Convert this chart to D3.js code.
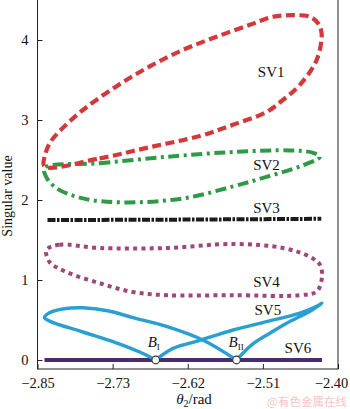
<!DOCTYPE html>
<html>
<head>
<meta charset="utf-8">
<script src="https://cdn.jsdelivr.net/npm/d3@7"></script>
<style>
  body { margin: 0; background: #fff; }
  svg text { font-family: "Liberation Serif", "DejaVu Serif", serif; fill: #111; }
</style>
</head>
<body>
<div id="chart"></div>
<script>
var width = 350, height = 409;

// tick values and labels
var x_ticks = [-2.85, -2.7375, -2.625, -2.5125, -2.40];
var x_tick_labels = ["\u22122.85", "\u22122.73", "\u22122.62", "\u22122.51", "\u22122.40"];
var y_ticks = [0, 1, 2, 3, 4];

// singular value curves, [theta2, value]
var sv1 = [[-2.8395, 2.42], [-2.757, 2.52], [-2.682, 2.66], [-2.607, 2.80], [-2.5575, 2.94],
  [-2.507, 3.10], [-2.4825, 3.25], [-2.457, 3.44], [-2.432, 3.75], [-2.4245, 4.08],
  [-2.43, 4.21], [-2.442, 4.29], [-2.4675, 4.31], [-2.4975, 4.29], [-2.532, 4.19],
  [-2.582, 4.04], [-2.6325, 3.875], [-2.682, 3.67], [-2.732, 3.42], [-2.782, 3.125],
  [-2.817, 2.86], [-2.831, 2.72], [-2.838, 2.58]];
var sv2 = [[-2.8395, 2.40], [-2.757, 2.46], [-2.657, 2.54], [-2.557, 2.60], [-2.472, 2.62],
  [-2.437, 2.59], [-2.427, 2.54], [-2.457, 2.42], [-2.507, 2.29], [-2.557, 2.17],
  [-2.632, 2.02], [-2.722, 1.97], [-2.782, 2.02], [-2.822, 2.15], [-2.837, 2.29]];
var sv3 = [[-2.835, 1.75], [-2.73, 1.752], [-2.63, 1.755], [-2.53, 1.76], [-2.425, 1.765]];
var sv4 = [[-2.8365, 1.375], [-2.817, 1.44], [-2.757, 1.40], [-2.6565, 1.40], [-2.5575, 1.45],
  [-2.4825, 1.40], [-2.442, 1.29], [-2.427, 1.19], [-2.424, 1.04], [-2.4315, 0.86],
  [-2.457, 0.81], [-2.5575, 0.81], [-2.6565, 0.81], [-2.7075, 0.85], [-2.757, 0.96],
  [-2.8065, 1.10], [-2.832, 1.225]];
// SV5 in two branches: B_I -> right tip -> B_II, then B_II -> left loop -> B_I
var sv5_right = [[-2.673, 0], [-2.647, 0.145], [-2.607, 0.245], [-2.557, 0.375], [-2.507, 0.48],
  [-2.457, 0.585], [-2.432, 0.67], [-2.424, 0.71], [-2.44, 0.62], [-2.477, 0.46],
  [-2.502, 0.335], [-2.527, 0.205], [-2.552, 0]];
var sv5_left = [[-2.552, 0], [-2.6025, 0.25], [-2.657, 0.42],
  [-2.707, 0.53], [-2.745, 0.615], [-2.782, 0.652], [-2.81, 0.64], [-2.832, 0.59],
  [-2.8395, 0.53], [-2.83, 0.48], [-2.782, 0.35], [-2.732, 0.215], [-2.697, 0.1], [-2.673, 0]];
var sv6 = [[-2.8395, 0], [-2.424, 0]];
var bifurcations = [[-2.673, 0], [-2.552, 0]];

// curve labels, anchored in data units
var sv_labels = [["SV1", -2.52, 3.54], ["SV2", -2.527, 2.37], ["SV3", -2.527, 1.84],
  ["SV4", -2.527, 0.91], ["SV5", -2.525, 0.56], ["SV6", -2.48, 0.09]];

var margins = { top: 0, right: 12, bottom: 40, left: 37.5 };

var x = d3.scaleLinear()
  .domain([-2.85, -2.40])
  .range([margins.left, width - margins.right]);

var y = d3.scaleLinear()
  .domain([-0.1125, 4.5])
  .range([height - margins.bottom, margins.top]);

var svg = d3.select("#chart")
  .append("svg")
  .attr("width", width)
  .attr("height", height);

// frame
svg.append("rect")
  .attr("x", x.range()[0])
  .attr("y", -1)
  .attr("width", x.range()[1] - x.range()[0])
  .attr("height", y.range()[0] + 1)
  .attr("fill", "none")
  .attr("stroke", "#222")
  .attr("stroke-width", 1);

var x_axis = d3.axisBottom(x)
  .tickValues(x_ticks)
  .tickFormat((d, i) => x_tick_labels[i])
  .tickSizeInner(-5)
  .tickSizeOuter(0)
  .tickPadding(9);

var gx = svg.append("g")
  .attr("transform", "translate(0," + y.range()[0] + ")")
  .call(x_axis);
gx.select(".domain").remove();
gx.selectAll("text").attr("font-size", 14.5).attr("font-family", "Liberation Serif");
gx.selectAll(".tick").filter((d, i) => i === x_ticks.length - 1)
  .select("text").attr("dx", -7);

var y_axis = d3.axisLeft(y)
  .tickValues(y_ticks)
  .tickFormat(d3.format("d"))
  .tickSizeInner(-5)
  .tickSizeOuter(0)
  .tickPadding(9);

var gy = svg.append("g")
  .attr("transform", "translate(" + x.range()[0] + ",0)")
  .call(y_axis);
gy.select(".domain").remove();
gy.selectAll("text").attr("font-size", 14.5).attr("font-family", "Liberation Serif");
svg.selectAll(".tick line").attr("stroke", "#222");

// axis titles
svg.append("text")
  .attr("transform", "translate(12,196) rotate(-90)")
  .attr("text-anchor", "middle")
  .attr("font-size", 14)
  .text("Singular value");

var xt = svg.append("text")
  .attr("x", 194)
  .attr("y", 404)
  .attr("text-anchor", "middle")
  .attr("font-size", 15);
xt.append("tspan").attr("font-style", "italic").text("\u03b8");
xt.append("tspan").attr("font-size", 10).attr("dy", 3).text("2");
xt.append("tspan").attr("dy", -3).text("/rad");

var loop = d3.line()
  .x((d) => x(d[0]))
  .y((d) => y(d[1]))
  .curve(d3.curveCatmullRomClosed.alpha(0.5));

var smooth = d3.line()
  .x((d) => x(d[0]))
  .y((d) => y(d[1]))
  .curve(d3.curveCatmullRom.alpha(0.5));

var open_line = d3.line()
  .x((d) => x(d[0]))
  .y((d) => y(d[1]));

// SV6 along the axis
svg.append("path")
  .datum(sv6)
  .attr("d", open_line)
  .attr("fill", "none")
  .attr("stroke", "#4a2b6f")
  .attr("stroke-width", 4);

// SV5 figure-eight
svg.selectAll(".sv5")
  .data([sv5_right, sv5_left])
  .enter()
  .append("path")
  .attr("class", "sv5")
  .attr("d", smooth)
  .attr("fill", "none")
  .attr("stroke", "#2b9fd2")
  .attr("stroke-width", 3.5)
  .attr("stroke-linejoin", "round")
  .attr("stroke-linecap", "round");

svg.append("path")
  .datum(sv4)
  .attr("d", loop)
  .attr("fill", "none")
  .attr("stroke", "#a0467c")
  .attr("stroke-width", 4)
  .attr("stroke-dasharray", "4,4.2");

svg.append("path")
  .datum(sv3)
  .attr("d", open_line)
  .attr("fill", "none")
  .attr("stroke", "#1c1c1c")
  .attr("stroke-width", 4)
  .attr("stroke-dasharray", "8,1.5,2.5,1.5");

svg.append("path")
  .datum(sv2)
  .attr("d", loop)
  .attr("fill", "none")
  .attr("stroke", "#2e9a45")
  .attr("stroke-width", 4)
  .attr("stroke-dasharray", "11,4.5,3,4.5");

svg.append("path")
  .datum(sv1)
  .attr("d", loop)
  .attr("fill", "none")
  .attr("stroke", "#d3393a")
  .attr("stroke-width", 4.2)
  .attr("stroke-dasharray", "9,4.5");

// bifurcation points
svg.selectAll(".bif")
  .data(bifurcations)
  .enter()
  .append("circle")
  .attr("class", "bif")
  .attr("cx", (d) => x(d[0]))
  .attr("cy", (d) => y(d[1]))
  .attr("r", 3.8)
  .attr("fill", "#fff")
  .attr("stroke", "#333")
  .attr("stroke-width", 1.2);

var bif_names = ["I", "II"];
bifurcations.forEach(function (d, i) {
  var t = svg.append("text")
    .attr("x", x(d[0]) - 8)
    .attr("y", y(d[1]) - 13)
    .attr("font-size", 15);
  t.append("tspan").attr("font-style", "italic").text("B");
  t.append("tspan").attr("font-size", 9).attr("dy", 3).text(bif_names[i]);
});

// curve labels
svg.selectAll(".sv-label")
  .data(sv_labels)
  .enter()
  .append("text")
  .attr("class", "sv-label")
  .attr("x", (d) => x(d[1]))
  .attr("y", (d) => y(d[2]))
  .attr("font-size", 15)
  .text((d) => d[0]);

// watermark
svg.append("text")
  .attr("x", 347)
  .attr("y", 406)
  .attr("text-anchor", "end")
  .attr("font-size", 11.5)
  .style("font-family", "'Noto Sans CJK SC', sans-serif")
  .style("fill", "#f2c4c4")
  .text("@有色金属在线");
</script>
</body>
</html>
